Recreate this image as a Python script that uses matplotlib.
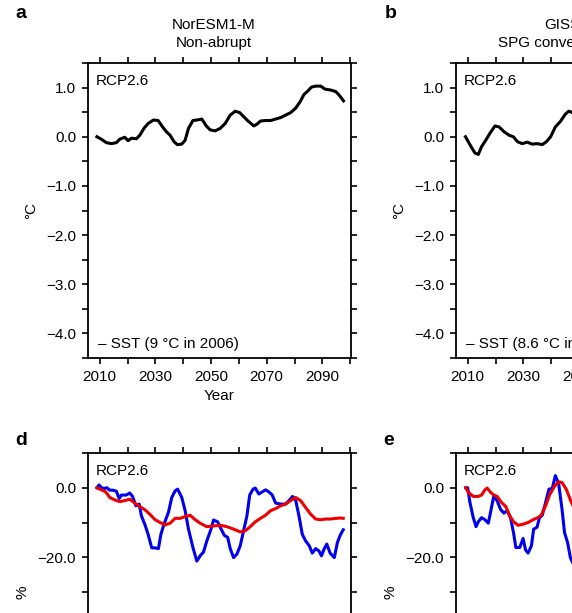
import numpy as np
import matplotlib.pyplot as plt

plt.rcParams['font.family'] = ['Liberation Sans', 'DejaVu Sans']
plt.rcParams['font.size'] = 11

# --- panel a: NorESM1-M, SST anomaly (degC)
yr_a = [2009, 2010.6, 2012.4, 2014.2, 2016, 2017.2, 2019, 2020.2, 2021.4, 2023.2,
        2024.4, 2025.9, 2027.4, 2029.3, 2031, 2032.6, 2034, 2035.3, 2036.7, 2037.9,
        2039.5, 2040.7, 2041.9, 2043.5, 2044.9, 2046.7, 2048.3, 2049.7, 2051.5, 2053.3,
        2055.1, 2056.9, 2058.7, 2060.3, 2061.7, 2063.5, 2065.4, 2066.6, 2067.8, 2069.6,
        2071.4, 2073.2, 2075, 2076.8, 2078.6, 2080.4, 2082, 2083.4, 2084.6, 2086.1,
        2087.6, 2089.4, 2090.9, 2093, 2094.8, 2096, 2097.6]
sst_a = [0.0, -0.05, -0.12, -0.14, -0.12, -0.05, -0.01, -0.08, -0.03, -0.04,
         0.03, 0.17, 0.27, 0.34, 0.33, 0.2, 0.1, 0.03, -0.1, -0.16,
         -0.15, -0.07, 0.17, 0.33, 0.34, 0.36, 0.22, 0.14, 0.12, 0.17,
         0.27, 0.44, 0.52, 0.49, 0.41, 0.31, 0.22, 0.26, 0.32, 0.33,
         0.33, 0.36, 0.39, 0.44, 0.49, 0.58, 0.71, 0.86, 0.92, 1.01,
         1.03, 1.03, 0.97, 0.95, 0.92, 0.85, 0.73]

# --- panel b: GISS-E2-R, SST anomaly (degC), visible part only
yr_b = [2009.2, 2011.2, 2012.6, 2013.8, 2015, 2016.5, 2018.1, 2019.8, 2021.3, 2023.1,
        2024.9, 2026.4, 2027.9, 2029.6, 2031.4, 2033.2, 2035, 2036.8, 2038.3, 2039.8,
        2041.5, 2043.3, 2045.1, 2046.3, 2047.3, 2048.5]
sst_b = [0.0, -0.2, -0.33, -0.36, -0.2, -0.07, 0.08, 0.22, 0.2, 0.1,
         0.03, 0.0, -0.1, -0.14, -0.11, -0.15, -0.14, -0.16, -0.1, 0.0,
         0.2, 0.31, 0.46, 0.52, 0.5, 0.45]

# --- panel d: NorESM1-M, change in %
yr_d_blue = [2009, 2009.8, 2010.6, 2011.8, 2012.6, 2013.6, 2014.8, 2016, 2017, 2017.8,
             2019.6, 2020.8, 2021.8, 2023, 2024.2, 2025, 2026.2, 2027.4, 2028.7, 2029.9,
             2031.1, 2032, 2033.1, 2034.7, 2035.9, 2037.1, 2038, 2039.5, 2040.7, 2041.9,
             2043.5, 2044.9, 2046.1, 2047.3, 2048.5, 2050, 2050.9, 2052.4, 2053.3, 2054.8,
             2056, 2056.9, 2058.1, 2059.3, 2060.5, 2061.7, 2062.9, 2063.9, 2065.1, 2065.9,
             2067.2, 2068.4, 2069.6, 2070.8, 2072, 2073.2, 2075, 2076.8, 2078, 2079.3,
             2080.4, 2081.6, 2082.8, 2084, 2085.3, 2086.4, 2087.6, 2088.8, 2089.7, 2090.6,
             2091.6, 2092.8, 2094.3, 2095.4, 2096.4, 2097.5]
val_d_blue = [0, 0.8, 0, -0.2, 0, -0.7, -0.7, -1, -3.1, -2.1,
              -2.1, -1.5, -2.5, -5.2, -4.7, -8.1, -10.5, -13.4, -17.3, -17.3,
              -17.5, -13.4, -10.5, -7.1, -2.8, -0.9, -0.4, -2.8, -6.6, -11.9,
              -17.2, -21.1, -19.6, -18.5, -15.3, -11.9, -9.3, -9.8, -11.4, -13.7,
              -14.3, -17.5, -20.1, -19.1, -16.7, -12.4, -8.1, -2.1, -0.4, -0.1,
              -1.8, -1.2, -0.6, -1.2, -2.1, -4.4, -4.7, -4.7, -3.7, -2.5,
              -3.5, -8.1, -13.4, -15.3, -16.7, -18.8, -17.5, -18.2, -19.6, -17.7,
              -16.2, -18.8, -20.1, -15.8, -13.7, -12.1]
yr_d_red = [2009, 2010.6, 2012.2, 2013.6, 2015.4, 2017.2, 2019, 2020.8, 2022.6, 2024.4,
            2026.2, 2028, 2029.9, 2031.7, 2033.5, 2035.3, 2037.1, 2038.9, 2040.7, 2042.5,
            2044.3, 2046.1, 2048.5, 2050.9, 2053.3, 2055.7, 2058.1, 2060.5, 2062.3, 2064.1,
            2065.9, 2067.8, 2069.6, 2071.4, 2073.2, 2075, 2076.8, 2078.6, 2080.4, 2082.2,
            2084, 2085.8, 2087.6, 2089.4, 2091.2, 2093, 2094.8, 2096.6, 2097.5]
val_d_red = [0, -0.6, -1.2, -2.8, -3.5, -4, -3.7, -3.3, -4.4, -5.4,
             -6.3, -7.6, -9.2, -10, -10.7, -10.2, -8.8, -8.8, -8.3, -7.9,
             -9.2, -10.2, -11.2, -11, -10.8, -11.2, -11.9, -12.7, -12.4, -11.2,
             -9.8, -8.8, -7.9, -6.6, -6, -5.2, -4.7, -3.7, -2.8, -3.7,
             -5.7, -7.6, -9, -9.2, -9, -9, -8.8, -8.7, -8.8]

# --- panel e: GISS-E2-R, change in %, visible part only
yr_e_blue = [2009.3, 2010, 2010.8, 2012, 2013, 2013.8, 2015, 2016.2, 2017.4, 2018.2,
             2019.4, 2020.6, 2021.8, 2023, 2024.2, 2025.4, 2026.5, 2027.3, 2028.7, 2029.9,
             2030.8, 2031.7, 2032.9, 2033.7, 2034.9, 2035.8, 2036.8, 2038, 2039.2, 2040.4,
             2041.5, 2042.7, 2043.9, 2044.8, 2045.9, 2046.9, 2048]
val_e_blue = [0, 0, -4.2, -8.6, -11.2, -9.8, -8.6, -9.2, -10.2, -7.1,
              -2.3, -3.8, -6.2, -7.3, -6.6, -8.6, -13.1, -17.2, -17.2, -14.6,
              -17.9, -18.8, -16.7, -11.9, -11.4, -8.6, -7.9, -4.2, -0.4, -0.2,
              3.5, 1.1, -6.2, -12.9, -15.8, -20.1, -22]
yr_e_red = [2009.3, 2010.2, 2012, 2013.8, 2015, 2016.2, 2017, 2018.2, 2019.4, 2020.6,
            2022.1, 2023.7, 2025.1, 2026.5, 2028.1, 2029.9, 2031.7, 2033.5, 2035.2, 2036.4,
            2038, 2039.4, 2041.2, 2042.7, 2043.9, 2045.4, 2046.9, 2048]
val_e_red = [0, -1.3, -2.5, -2.5, -2.1, -0.6, -0.1, -1.3, -2.1, -2.5,
             -4.2, -5.4, -8.1, -9.8, -10.8, -10.5, -10, -9.2, -8.6, -7.9,
             -5.2, -2.1, 0.4, 1.7, 1.5, -0.4, -3.5, -5.5]

W, H = 572, 613
fig = plt.figure(figsize=(W / 100, H / 100), dpi=100)


def px_axes(x0, y0, w, h):
    return fig.add_axes([x0 / W, 1 - (y0 + h) / H, w / W, h / H])


def fmt(v):
    s = '%.1f' % abs(v)
    return ('\u2212' + s) if v < 0 else s


def style(ax, ylim, ystep, ylab_step, ylabel, bottom_labels=True):
    ax.set_xlim(2005.8, 2100.3)
    xt = np.arange(2010, 2101, 10)
    ax.set_xticks(xt)
    ax.set_xticklabels([str(v) if v % 20 == 10 else '' for v in xt])
    yt = np.arange(ylim[0], ylim[1] + ystep / 2, ystep)
    ax.set_yticks(yt)
    ax.set_yticklabels([fmt(v) if abs(v / ylab_step - round(v / ylab_step)) < 1e-6 and v < ylim[1] else ''
                        for v in yt])
    ax.set_ylim(*ylim)
    ax.tick_params(direction='out', length=4.5, width=1.2, top=True, right=True,
                   labeltop=False, labelright=False, labelbottom=bottom_labels,
                   pad=4, labelsize=11)
    for s in ax.spines.values():
        s.set_linewidth(1.3)
    ax.set_ylabel(ylabel, labelpad=6)
    if bottom_labels:
        ax.set_xlabel('Year', labelpad=4)
    ax.annotate('RCP2.6', xy=(0, 1), xycoords='axes fraction', xytext=(8, -22),
                textcoords='offset pixels', va='baseline', ha='left', fontsize=11)


# top row
ax_a = px_axes(88, 63, 263, 295)
ax_a.plot(yr_a, sst_a, color='black', lw=2.2)
style(ax_a, (-4.5, 1.5), 0.5, 1.0, '\u00b0C')
ax_a.annotate('\u2013 SST (9 \u00b0C in 2006)', xy=(0, 0), xycoords='axes fraction',
              xytext=(10, 10), textcoords='offset pixels', va='baseline', fontsize=11)

ax_b = px_axes(456, 63, 263, 295)
ax_b.plot(yr_b, sst_b, color='black', lw=2.2)
style(ax_b, (-4.5, 1.5), 0.5, 1.0, '\u00b0C')
ax_b.annotate('\u2013 SST (8.6 \u00b0C in 2006)', xy=(0, 0), xycoords='axes fraction',
              xytext=(10, 10), textcoords='offset pixels', va='baseline', fontsize=11)

# bottom row (x labels fall below the picture)
ax_d = px_axes(88, 453, 263, 278)
ax_d.plot(yr_d_blue, val_d_blue, color='#0000ee', lw=2.2)
ax_d.plot(yr_d_red, val_d_red, color='#ee0000', lw=2.2)
style(ax_d, (-70, 10), 10, 20, '%', bottom_labels=False)

ax_e = px_axes(456, 453, 263, 278)
ax_e.plot(yr_e_blue, val_e_blue, color='#0000ee', lw=2.2)
ax_e.plot(yr_e_red, val_e_red, color='#ee0000', lw=2.2)
style(ax_e, (-70, 10), 10, 20, '%', bottom_labels=False)

# titles
fig.text(214 / W, 1 - 29 / H, 'NorESM1-M', ha='center', va='baseline', fontsize=11)
fig.text(214 / W, 1 - 47 / H, 'Non-abrupt', ha='center', va='baseline', fontsize=11)
fig.text(582 / W, 1 - 29 / H, 'GISS-E2-R', ha='center', va='baseline', fontsize=11)
fig.text(582 / W, 1 - 47 / H, 'SPG convection collapse', ha='center', va='baseline', fontsize=11)

# panel letters
for letter, x, y in [('a', 15, 18), ('b', 385, 18), ('d', 15, 445), ('e', 383, 445)]:
    fig.text(x / W, 1 - y / H, letter, ha='left', va='baseline', fontsize=14, fontweight='bold')

fig.savefig('out.png', dpi=100)
